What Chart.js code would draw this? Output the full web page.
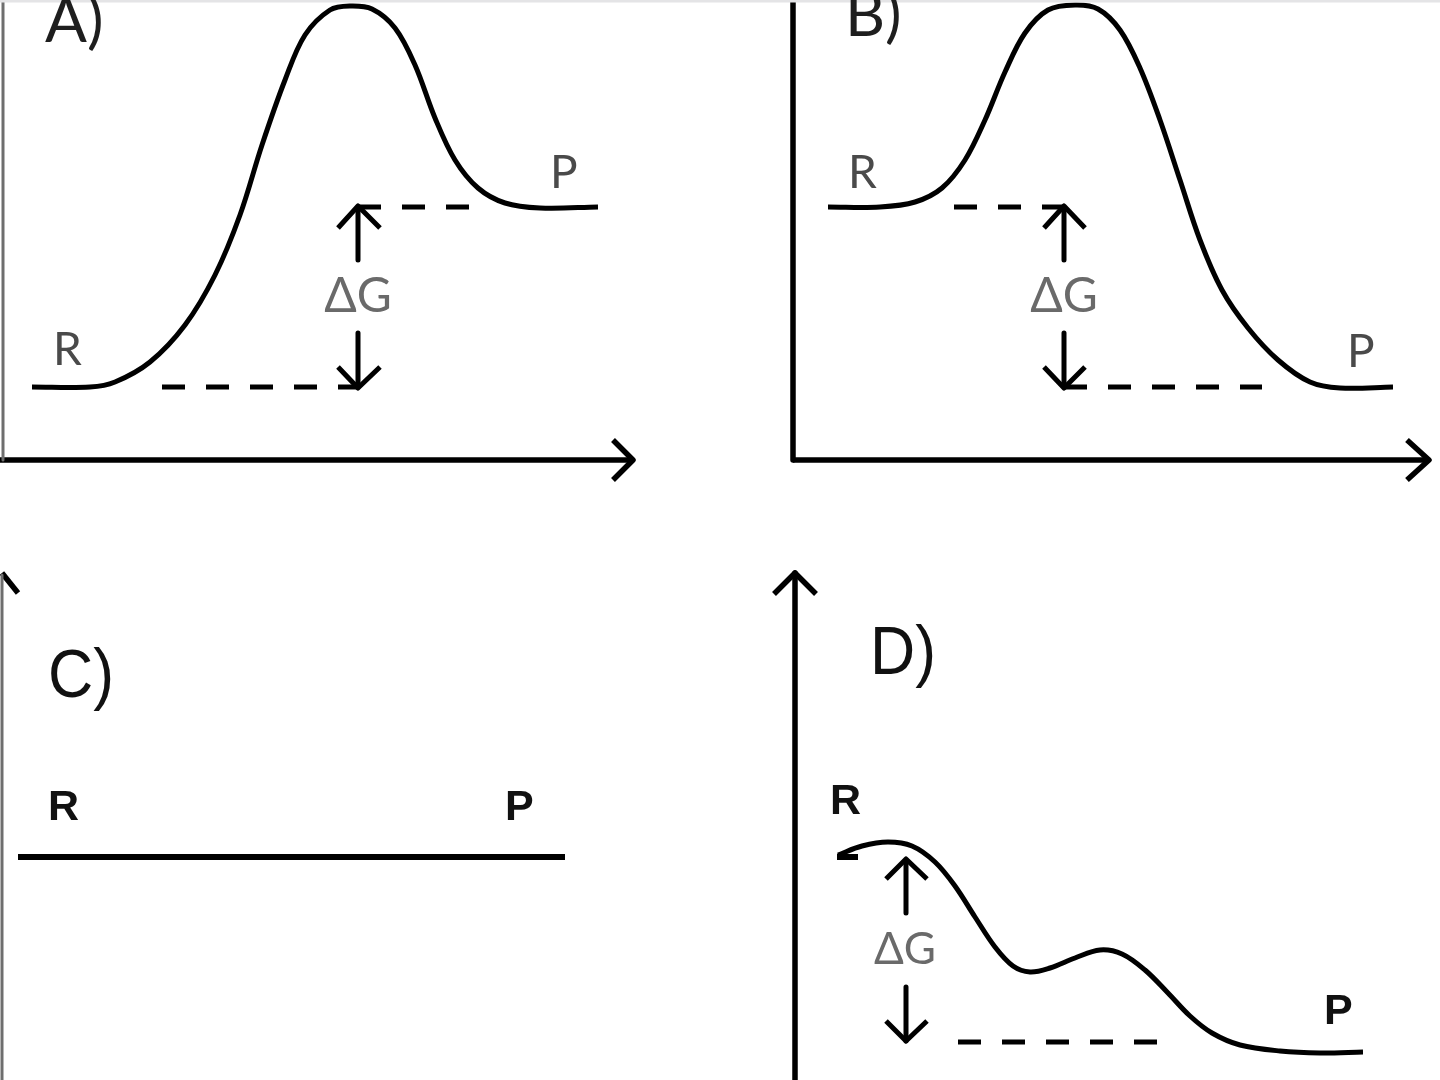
<!DOCTYPE html>
<html>
<head>
<meta charset="utf-8">
<script src="https://cdn.jsdelivr.net/npm/chart.js@4.4.1/dist/chart.umd.min.js"></script>
<style>
  html, body { margin: 0; padding: 0; background: #fff; }
  #wrap { width: 1440px; height: 1080px; }
</style>
</head>
<body>
<div id="wrap"><canvas id="energyChart"></canvas></div>
<script>
// reaction coordinate curves (x, y in page units, y grows downwards)
const curveA = [[32,387],[90,387],[115,382],[150,362],[185,325],[215,275],[240,215],[262,145],[285,80],[305,35],[330,10],[350,6],[372,9],[395,28],[415,65],[435,118],[455,160],[478,188],[505,203],[540,208],[598,207]];
const curveB = [[828,207],[880,207],[915,202],[942,188],[965,160],[985,120],[1005,72],[1025,33],[1048,10],[1075,5],[1098,9],[1120,30],[1140,68],[1160,120],[1180,180],[1200,240],[1222,290],[1248,328],[1278,360],[1310,382],[1340,388],[1393,387]];
const curveC = [[18,857],[565,857]];
const curveD = [[838,855],[862,846],[888,842],[912,846],[935,862],[955,886],[975,917],[995,947],[1013,966],[1030,972],[1050,968],[1075,958],[1100,950],[1122,954],[1145,970],[1168,993],[1190,1016],[1212,1033],[1240,1045],[1280,1051],[1320,1053],[1363,1052]];
const stubD = [[837,857],[858,857]];

// axes
const axesThin = [
  [[3,0],[3,460]],
  [[2,575],[2,1080]]
];
const axesBold = [
  [[0,460],[633,460]],
  [[613,440],[633,460],[613,480]],
  [[793,0],[793,460]],
  [[793,460],[1429,460]],
  [[1407,440],[1429,460],[1407,480]],
  [[2,573],[18,593]],
  [[795,573],[795,1080]],
  [[774,594],[795,573],[816,594]]
];

// delta G arrows
const arrows = [
  [[358,207],[358,260]], [[338,228],[358,206],[380,228]],
  [[358,333],[358,387]], [[338,367],[358,388],[380,367]],
  [[1064,207],[1064,260]], [[1044,228],[1064,206],[1085,228]],
  [[1064,333],[1064,387]], [[1044,367],[1064,388],[1085,367]],
  [[906,860],[906,913]], [[886,879],[906,859],[927,879]],
  [[906,987],[906,1041]], [[886,1021],[906,1041],[927,1021]]
];

// dashed energy levels
const dashLevels = [
  [[162,387],[358,387]],
  [[358,207],[470,207]],
  [[954,207],[1064,207]],
  [[1064,387],[1262,387]],
  [[958,1042],[1177,1042]]
];

const topEdge = [[0,1],[1440,1]];

// labels: text and anchor point
const panelTitles = [['A)',45,42],['B)',845,36]];
const panelTitles2 = [['C)',48,697],['D)',870,674]];
const levelLabels = [['R',53,365],['P',550,188],['R',848,188],['P',1347,367]];
const levelLabels2 = [['R',48,820],['P',505,820],['R',830,814],['P',1324,1024]];
const deltaLabels = [['ΔG',358,312,48],['ΔG',1064,312,48],['ΔG',905,964,44]];

const pts = arr => arr.map(p => ({ x: p[0], y: p[1] }));

function lineSet(arr, opts) {
  return Object.assign({
    data: pts(arr),
    showLine: true,
    borderColor: '#000',
    borderWidth: 5,
    pointRadius: 0,
    fill: false,
    borderCapStyle: 'butt',
    borderJoinStyle: 'round'
  }, opts);
}

const datasets = [];
datasets.push(lineSet(topEdge, { borderColor: '#e4e4e6', borderWidth: 3 }));
axesThin.forEach(a => datasets.push(lineSet(a, { borderColor: '#6e6e6e', borderWidth: 3 })));
axesBold.forEach(a => datasets.push(lineSet(a, { borderWidth: 5.5 })));
[curveA, curveB, curveD].forEach(c => datasets.push(lineSet(c, { tension: 0.35, borderWidth: 5 })));
datasets.push(lineSet(curveC, { borderWidth: 6 }));
datasets.push(lineSet(stubD, { borderWidth: 6 }));
arrows.forEach(a => datasets.push(lineSet(a, { borderWidth: 5 })));
dashLevels.forEach(d => datasets.push(lineSet(d, { borderDash: [23, 21], borderWidth: 5 })));

const textPlugin = {
  id: 'diagramText',
  afterDatasetsDraw(chart) {
    const { ctx, scales: { x, y } } = chart;
    const put = (txt, px, py, font, color, align, squeeze) => {
      ctx.save();
      ctx.translate(x.getPixelForValue(px), y.getPixelForValue(py));
      ctx.scale(squeeze || 1, 1);
      ctx.font = font;
      ctx.fillStyle = color;
      ctx.textAlign = align || 'left';
      ctx.textBaseline = 'alphabetic';
      ctx.fillText(txt, 0, 0);
      ctx.restore();
    };
    panelTitles.forEach(t => put(t[0], t[1], t[2], '62px Lato, "Open Sans", sans-serif', '#1e1e1e'));
    panelTitles2.forEach(t => put(t[0], t[1], t[2], '68px "Liberation Sans", Arial, sans-serif', '#111', 'left', 0.92));
    levelLabels.forEach(t => put(t[0], t[1], t[2], '46px Lato, "Open Sans", sans-serif', '#4a4a4a'));
    levelLabels2.forEach(t => put(t[0], t[1], t[2], 'bold 43px "Liberation Sans", Arial, sans-serif', '#111'));
    deltaLabels.forEach(t => put(t[0], t[1], t[2], t[3] + 'px Lato, "Open Sans", sans-serif', '#6a6a6a', 'center'));
  }
};

new Chart(document.getElementById('energyChart'), {
  type: 'scatter',
  data: { datasets: datasets },
  options: {
    responsive: true,
    maintainAspectRatio: false,
    animation: false,
    events: [],
    layout: { padding: 0 },
    scales: {
      x: { type: 'linear', min: 0, max: 1440, display: false },
      y: { type: 'linear', min: 0, max: 1080, reverse: true, display: false }
    },
    plugins: {
      legend: { display: false },
      tooltip: { enabled: false }
    }
  },
  plugins: [textPlugin]
});
</script>
</body>
</html>
